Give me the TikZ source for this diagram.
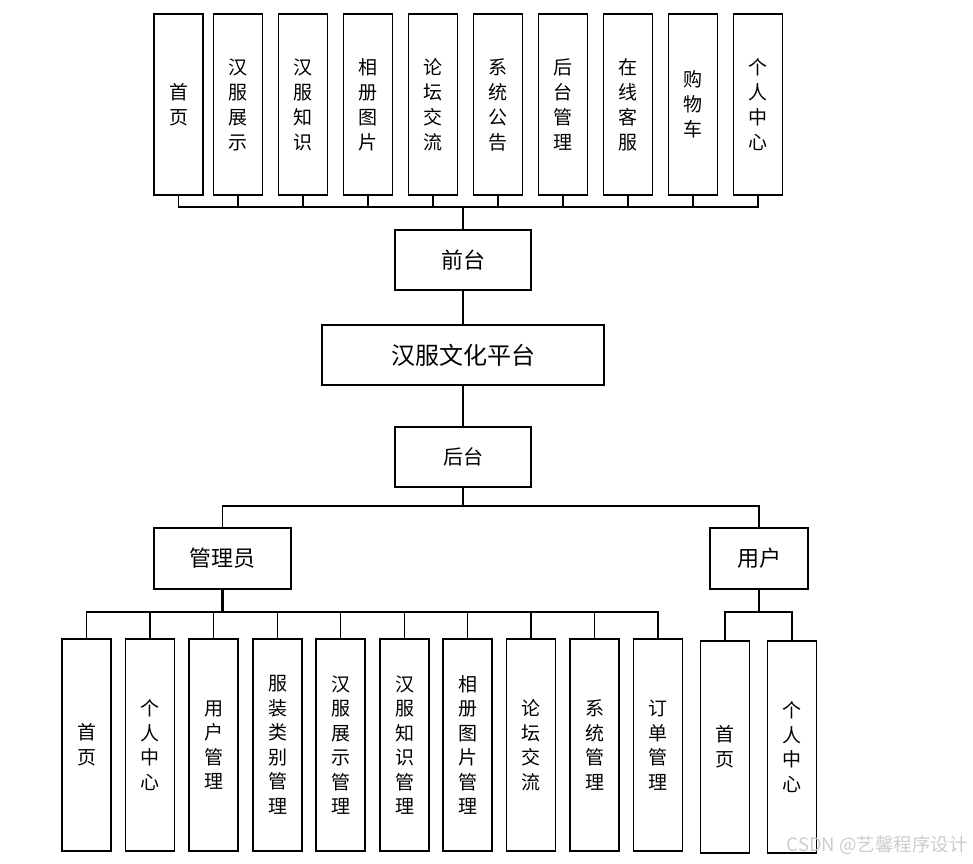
\documentclass[tikz,border=0pt]{standalone}
\usepackage{fontspec}
\setmainfont{Noto Sans CJK SC}
\usetikzlibrary{calc}
\tikzset{
	box/.style={draw, line width=1.3pt, fill=white, inner sep=0pt, align=center},
	itembox/.style={box, minimum width=49pt, minimum height=181pt, font=\fontsize{19}{25}\selectfont},
	lowbox/.style={box, minimum width=49pt, minimum height=212pt, font=\fontsize{19}{24.5}\selectfont},
	bus/.style={line width=1.1pt},
	trunk/.style={line width=2.4pt}
}
\newcommand{\itemBox}[4]{
	\node[itembox] (#1) at (#2, #3) {#4};
}
\newcommand{\lowBox}[4]{
	\node[lowbox] (#1) at (#2, #3) {#4};
}

\begin{document}
\begin{tikzpicture}[x=1pt, y=-1pt]
		\useasboundingbox (0,0) rectangle (973,863);

		% Draw front-end items
		\itemBox{shouye}{178.5}{104.5}{首\\页}
		\itemBox{zhanshi}{238}{104.5}{汉\\服\\展\\示}
		\itemBox{zhishi}{303}{104.5}{汉\\服\\知\\识}
		\itemBox{tupian}{368}{104.5}{相\\册\\图\\片}
		\itemBox{luntan}{433}{104.5}{论\\坛\\交\\流}
		\itemBox{gonggao}{498}{104.5}{系\\统\\公\\告}
		\itemBox{houtaiguanli}{563}{104.5}{后\\台\\管\\理}
		\itemBox{kefu}{628}{104.5}{在\\线\\客\\服}
		\itemBox{gouwuche}{693}{104.5}{购\\物\\车}
		\itemBox{geren}{758}{104.5}{个\\人\\中\\心}

		% Draw main boxes
		\node[box, minimum width=136pt, minimum height=60pt, font=\fontsize{22}{22}\selectfont] (qiantai) at (463, 260) {前台};
		\node[box, minimum width=282pt, minimum height=60pt, font=\fontsize{24}{24}\selectfont] (pingtai) at (463, 355) {汉服文化平台};
		\node[box, minimum width=136pt, minimum height=60pt, font=\fontsize{20}{20}\selectfont] (houtai) at (463, 457) {后台};
		\node[box, minimum width=137pt, minimum height=61pt, font=\fontsize{22}{22}\selectfont] (admin) at (222.5, 558.5) {管理员};
		\node[box, minimum width=98pt, minimum height=61pt, font=\fontsize{22}{22}\selectfont] (user) at (759, 558.5) {用户};

		% Draw admin items
		\lowBox{a1}{86.5}{745}{首\\页}
		\lowBox{a2}{150}{745}{个\\人\\中\\心}
		\lowBox{a3}{213.5}{745}{用\\户\\管\\理}
		\lowBox{a4}{277.5}{745}{服\\装\\类\\别\\管\\理}
		\lowBox{a5}{340.5}{745}{汉\\服\\展\\示\\管\\理}
		\lowBox{a6}{404.5}{745}{汉\\服\\知\\识\\管\\理}
		\lowBox{a7}{467.5}{745}{相\\册\\图\\片\\管\\理}
		\lowBox{a8}{531}{745}{论\\坛\\交\\流}
		\lowBox{a9}{594.5}{745}{系\\统\\管\\理}
		\lowBox{a10}{658}{745}{订\\单\\管\\理}

		% Draw user items
		\lowBox{u1}{725}{747}{首\\页}
		\lowBox{u2}{792}{747}{个\\人\\中\\心}

		% Front-end bus
		\coordinate (fbus) at (0, 207);
		\draw[bus] (shouye.south) |- (geren.south |- fbus) -- (geren.south);
		\draw[bus] (zhanshi.south) -- (zhanshi.south |- fbus);
		\draw[bus] (zhishi.south) -- (zhishi.south |- fbus);
		\draw[bus] (tupian.south) -- (tupian.south |- fbus);
		\draw[bus] (luntan.south) -- (luntan.south |- fbus);
		\draw[bus] (gonggao.south) -- (gonggao.south |- fbus);
		\draw[bus] (houtaiguanli.south) -- (houtaiguanli.south |- fbus);
		\draw[bus] (kefu.south) -- (kefu.south |- fbus);
		\draw[bus] (gouwuche.south) -- (gouwuche.south |- fbus);
		\draw[trunk] (qiantai.north) -- (qiantai.north |- fbus);

		% Centre line
		\draw[bus] (qiantai.south) -- (pingtai.north);
		\draw[bus] (pingtai.south) -- (houtai.north);

		% Back-end bus
		\coordinate (bbus) at (0, 506);
		\draw[bus] (admin.north) |- (user.north |- bbus) -- (user.north);
		\draw[bus] (houtai.south) -- (houtai.south |- bbus);

		% Admin bus
		\coordinate (abus) at (0, 612);
		\draw[bus] (a1.north) |- (a10.north |- abus) -- (a10.north);
		\draw[bus] (a2.north) -- (a2.north |- abus);
		\draw[bus] (a3.north) -- (a3.north |- abus);
		\draw[bus] (a4.north) -- (a4.north |- abus);
		\draw[bus] (a5.north) -- (a5.north |- abus);
		\draw[bus] (a6.north) -- (a6.north |- abus);
		\draw[bus] (a7.north) -- (a7.north |- abus);
		\draw[bus] (a8.north) -- (a8.north |- abus);
		\draw[bus] (a9.north) -- (a9.north |- abus);
		\draw[trunk] (admin.south) -- (admin.south |- abus);

		% User bus
		\draw[bus] (u1.north) |- (u2.north |- abus) -- (u2.north);
		\draw[trunk] (user.south) -- (user.south |- abus);

		\node[text=gray!40, font=\fontsize{18.5}{18.5}\selectfont, anchor=east, inner sep=0pt] (mark) at (968, 845) {CSDN @艺馨程序设计};
	\end{tikzpicture}
\end{document}
